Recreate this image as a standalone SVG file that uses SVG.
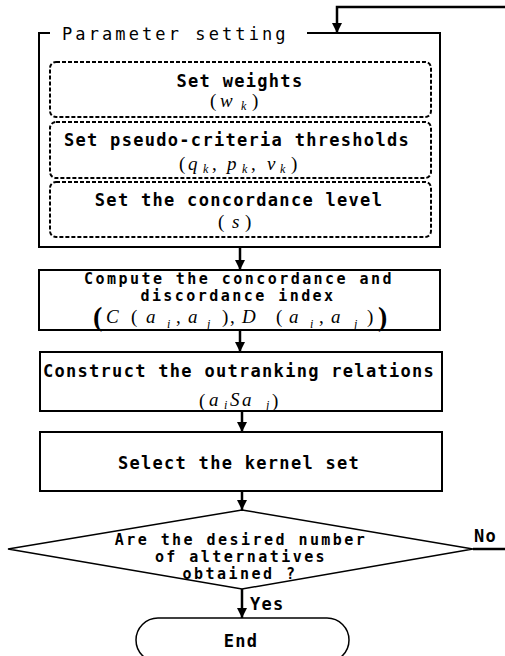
<svg xmlns="http://www.w3.org/2000/svg" width="505" height="656" viewBox="0 0 505 656">
<defs>
<style>
.t{font-family:"DejaVu Sans Mono","Liberation Mono",monospace;font-weight:bold;font-size:17px;letter-spacing:1.3px;text-anchor:middle;fill:#000}
.t2{font-family:"DejaVu Sans Mono","Liberation Mono",monospace;font-weight:bold;font-size:15px;letter-spacing:2.45px;text-anchor:middle;fill:#000}
.title{font-family:"DejaVu Sans Mono","Liberation Mono",monospace;font-size:17px;letter-spacing:3.1px;fill:#000}
.m{font-family:"Liberation Serif","Times New Roman",serif;font-size:19px;fill:#000}
.i{font-style:italic}
.s{font-family:"Liberation Serif","Times New Roman",serif;font-style:italic;font-size:12px;fill:#000}
.big{font-family:"Liberation Serif","Times New Roman",serif;font-weight:bold;font-size:28px;fill:#000}
.box{fill:#fff;stroke:#000;stroke-width:2}
.dash{fill:none;stroke:#000;stroke-width:2;stroke-dasharray:4 2}
.line{fill:none;stroke:#000;stroke-width:2.5}
</style>
<marker id="ah" markerUnits="userSpaceOnUse" markerWidth="11" markerHeight="10" refX="10" refY="5" orient="auto">
<path d="M0,0 L10,5 L0,10 z" fill="#000"/>
</marker>
</defs>

<g id="param">
<path d="M50,33 H39 V247 H440 V33 H307" fill="none" stroke="#000" stroke-width="2"/>
<text class="title" x="62" y="40">Parameter setting</text>
</g>

<g id="weights">
<rect class="dash" x="50" y="62" width="381" height="55" rx="6"/>
<text class="t" x="240" y="87">Set weights</text>
<text class="m" x="210" y="107">(</text>
<text class="m i" x="220" y="107">w</text>
<text class="s" x="241" y="110">k</text>
<text class="m" x="252" y="107">)</text>
</g>

<g id="thresholds">
<rect class="dash" x="50" y="122" width="381" height="56" rx="6"/>
<text class="t" x="237" y="146">Set pseudo-criteria thresholds</text>
<text class="m" x="179" y="170">(</text>
<text class="m i" x="188" y="170">q</text>
<text class="s" x="203" y="173">k</text>
<text class="m" x="212" y="170">,</text>
<text class="m i" x="227" y="170">p</text>
<text class="s" x="242" y="173">k</text>
<text class="m" x="251" y="170">,</text>
<text class="m i" x="267" y="170">v</text>
<text class="s" x="280" y="173">k</text>
<text class="m" x="291" y="170">)</text>
</g>

<g id="level">
<rect class="dash" x="50" y="182" width="381" height="55" rx="6"/>
<text class="t" x="239" y="206">Set the concordance level</text>
<text class="m" x="218" y="228">(</text>
<text class="m i" x="232" y="228">s</text>
<text class="m" x="245" y="228">)</text>
</g>

<g id="compute">
<rect class="box" x="39" y="270" width="401" height="60"/>
<text class="t2" x="239" y="284">Compute the concordance and</text>
<text class="t2" x="238" y="301">discordance index</text>
<text class="big" x="93" y="326">(</text>
<text class="m i" x="106" y="323">C</text>
<text class="m" x="131" y="323">(</text>
<text class="m i" x="146" y="323">a</text>
<text class="s" x="167" y="328">i</text>
<text class="m" x="176" y="323">,</text>
<text class="m i" x="188" y="323">a</text>
<text class="s" x="207" y="328">j</text>
<text class="m" x="222" y="323">)</text>
<text class="m" x="230" y="323">,</text>
<text class="m i" x="242" y="323">D</text>
<text class="m" x="276" y="323">(</text>
<text class="m i" x="289" y="323">a</text>
<text class="s" x="310" y="328">i</text>
<text class="m" x="319" y="323">,</text>
<text class="m i" x="331" y="323">a</text>
<text class="s" x="354" y="328">j</text>
<text class="m" x="367" y="323">)</text>
<text class="big" x="378" y="326">)</text>
</g>

<g id="construct">
<rect class="box" x="40" y="352" width="402" height="59"/>
<text class="t" x="239" y="377">Construct the outranking relations</text>
<text class="m" x="199" y="407" font-size="25">(</text>
<text class="m i" x="209" y="406">a</text>
<text class="s" x="224" y="409">i</text>
<text class="m i" x="230" y="406">S</text>
<text class="m i" x="242" y="406">a</text>
<text class="s" x="266" y="409">j</text>
<text class="m" x="272" y="407" font-size="25">)</text>
</g>

<g id="kernel">
<rect class="box" x="40" y="432" width="402" height="59"/>
<text class="t" x="239" y="469">Select the kernel set</text>
</g>

<g id="decision">
<polygon points="242,510 473,549 242,589 8,549" fill="#fff" stroke="#000" stroke-width="1.5"/>
<text class="t2" x="241" y="545">Are the desired number</text>
<text class="t2" x="241" y="562">of alternatives</text>
<text class="t2" x="240" y="579">obtained ?</text>
</g>

<g id="end">
<rect x="136" y="618" width="213" height="44" rx="22" fill="#fff" stroke="#000" stroke-width="1.5"/>
<text class="t" x="241" y="647">End</text>
</g>

<g id="connectors">
<path class="line" d="M505,7 H337 V33" marker-end="url(#ah)"/>
<path class="line" d="M240,247 V270" marker-end="url(#ah)"/>
<path class="line" d="M240,330 V352" marker-end="url(#ah)"/>
<path class="line" d="M242,411 V432" marker-end="url(#ah)"/>
<path class="line" d="M242,491 V510" marker-end="url(#ah)"/>
<path class="line" d="M242,589 V618" marker-end="url(#ah)"/>
<path class="line" d="M473,549 H505"/>
<text class="t" x="474" y="542" style="text-anchor:start">No</text>
<text class="t" x="250" y="610" style="text-anchor:start">Yes</text>
</g>
</svg>
